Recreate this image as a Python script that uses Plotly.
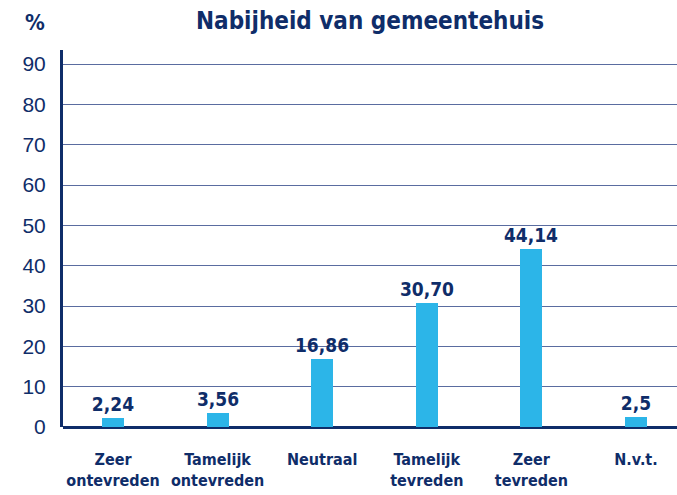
import plotly.graph_objects as go

categories = ["Zeer<br>ontevreden", "Tamelijk<br>ontevreden", "Neutraal",
              "Tamelijk<br>tevreden", "Zeer<br>tevreden", "N.v.t."]
values = [2.24, 3.56, 16.86, 30.70, 44.14, 2.5]
value_labels = ["2,24", "3,56", "16,86", "30,70", "44,14", "2,5"]
y_ticks = [0, 10, 20, 30, 40, 50, 60, 70, 80, 90]

NAVY = "#0f2d69"
BAR = "#2cb5e8"
NARROW = "Liberation Sans Narrow, DejaVu Sans Condensed, Arial Narrow, sans-serif"

fig = go.Figure()
fig.add_trace(go.Bar(
    x=list(range(len(categories))),
    y=values,
    width=0.21,
    marker=dict(color=BAR, line=dict(width=0)),
    text=value_labels,
    textposition="outside",
    constraintext="none",
    cliponaxis=False,
    textfont=dict(family=NARROW, size=19, color=NAVY, weight="bold"),
))

fig.update_xaxes(
    range=[-0.478, 5.392],
    tickvals=list(range(len(categories))),
    ticktext=[f"<b>{c}</b>" for c in categories],
    tickangle=0, automargin=False,
    tickfont=dict(family=NARROW, size=16, color=NAVY),
    ticks="outside", ticklen=18, tickcolor="rgba(0,0,0,0)",
    showgrid=False, showline=False, zeroline=False,
)
fig.update_yaxes(
    range=[0, 93.5],
    tickvals=y_ticks, automargin=False,
    tickfont=dict(family="Liberation Sans, Arial, sans-serif", size=21, color=NAVY),
    showgrid=True, gridcolor="#5a6ca0", gridwidth=1,
    zeroline=True, zerolinecolor=NAVY, zerolinewidth=3,
    showline=True, linecolor=NAVY, linewidth=3,
    ticks="outside", ticklen=10, tickcolor="rgba(0,0,0,0)",
)

fig.add_annotation(
    text="<b>Nabijheid van gemeentehuis</b>", xref="paper", yref="paper",
    x=0.5, y=1.0, xanchor="center", yanchor="bottom", yshift=13, showarrow=False,
    font=dict(family=NARROW, size=24, color=NAVY),
)
fig.add_annotation(
    text="<b>%</b>", xref="paper", yref="paper",
    x=0, y=1.0, xanchor="center", yanchor="bottom", xshift=-28, yshift=13, showarrow=False,
    font=dict(family=NARROW, size=22, color=NAVY),
)

fig.update_layout(
    width=677, height=495,
    margin=dict(l=63, r=0, t=50, b=68),
    plot_bgcolor="white", paper_bgcolor="white",
    showlegend=False,
    bargap=0,
)

fig.write_html("out.html", config={"displayModeBar": False},
               post_script="document.body.style.margin='0';")
